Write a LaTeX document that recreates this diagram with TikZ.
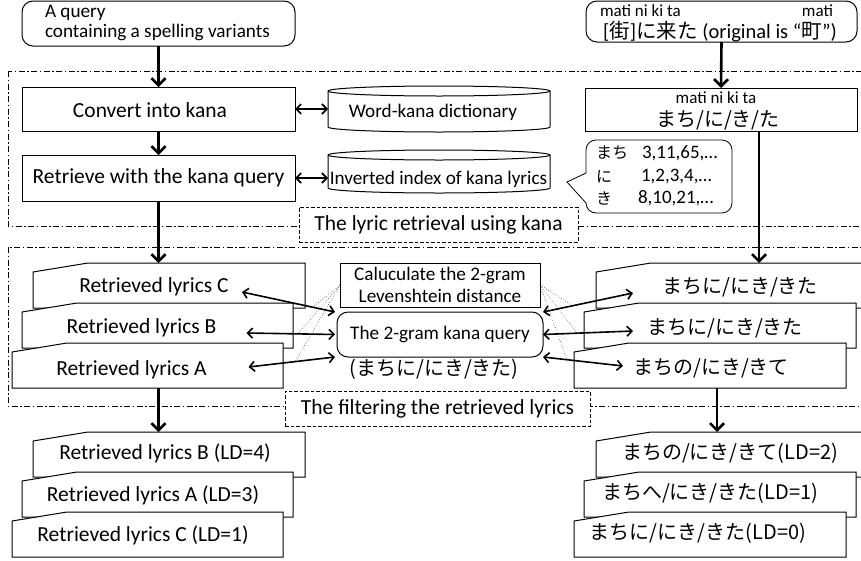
\documentclass[tikz,border=0pt]{standalone}
\usepackage{fontspec}
\setmainfont{Carlito}
\newfontfamily\jp{Noto Sans CJK JP}
\usetikzlibrary{arrows.meta,calc}
\newcommand\lyrshape[1]{\draw[line width=1pt, fill=white] (#1.south west) -- ([yshift=-9pt]#1.north west) -- ([xshift=55pt]#1.north west) -- (#1.north east) -- (#1.south east) -- cycle;}
\newcommand\cylshape[1]{%
 \draw[line width=1pt, fill=white] ([yshift=-5pt]#1.north west) -- ([yshift=5pt]#1.south west) arc[start angle=180,end angle=360,x radius=111pt,y radius=5pt] -- ([yshift=-5pt]#1.north east) arc[start angle=0,end angle=180,x radius=111pt,y radius=5pt] -- cycle;
 \draw[line width=1pt] ([yshift=-5pt]#1.north west) arc[start angle=180,end angle=360,x radius=111pt,y radius=5pt];}
\tikzset{
 every node/.style={inner sep=0pt, outer sep=0pt},
 boxx/.style={draw, line width=1pt, fill=white, rectangle},
 rboxx/.style={boxx, rounded corners=11pt},
 bnd/.style={draw=none, rectangle, inner sep=0pt},
 big/.style={font=\fontsize{21.5}{26}\selectfont},
 mid/.style={font=\fontsize{19.2}{20}\selectfont},
 sml/.style={font=\fontsize{17}{20}\selectfont},
 smm/.style={font=\fontsize{19}{20}\selectfont},
 jpb/.style={font=\jp\fontsize{20}{24}\selectfont},
 jps/.style={font=\jp\fontsize{16}{20}\selectfont},
 dframe/.style={line width=0.8pt, dash pattern=on 6pt off 2.5pt on 1.5pt off 2.5pt},
 lbl/.style={draw, fill=white, line width=0.8pt, dash pattern=on 3.5pt off 2pt, big},
 varr/.style={line width=2.6pt, -{Straight Barb[length=7pt,width=14pt]}},
 darr/.style={line width=1.6pt, {Straight Barb[length=5pt,width=10pt]}-{Straight Barb[length=5pt,width=10pt]}},
 dotln/.style={line width=0.5pt, dotted},
}
\begin{document}
\begin{tikzpicture}[x=1pt,y=-1pt]
\fill[white] (0,0) rectangle (861,560);
\useasboundingbox (0,0) rectangle (861,560);
% frames
\draw[dframe] (8,71) rectangle (880,226);
\draw[dframe] (8,247) rectangle (880,406);
% top left
\node[rboxx, minimum width=273pt, minimum height=45pt] (q0) at (158.5,23.5) {};
\node[mid, align=left, anchor=west] (q0t) at (45,23) {A query\\containing a spelling variants};
\node[boxx, minimum width=273pt, minimum height=44pt] (conv) at (158.5,109) {};
\node[big] (convt) at (150,110) {Convert into kana};
\node[boxx, big, minimum width=273pt, minimum height=46pt] (ret) at (158.5,178) {Retrieve with the kana query};
% cylinders
\node[bnd, minimum width=222pt, minimum height=46pt] (wk) at (439,109) {};
\cylshape{wk}
\node[mid] (wkt) at (433,112) {Word-kana dictionary};
\node[bnd, minimum width=222pt, minimum height=43pt] (ii) at (439,171.5) {};
\cylshape{ii}
\node[mid] (iit) at (438.5,179) {Inverted index of kana lyrics};
\draw[darr] (conv.east) -- (conv.east -| wk.west);
\draw[darr] (ret.east) -- (ret.east -| ii.west);
\draw[varr] (q0.south) -- (conv.north);
\draw[varr] (conv.south) -- (ret.north);
% right top
\node[rboxx, minimum width=271pt, minimum height=41pt] (rq) at (721.5,21.5) {};
\node[sml, anchor=west] (rqa) at (600,11) {mati ni ki ta};
\node[sml, anchor=east] (rqb) at (833,11) {mati};
\node[font=\fontsize{20.5}{22}\selectfont] (rqc) at (720,32) {[{\jp 街}]{\jp に来た} (original is “{\jp 町}”)};
\node[boxx, minimum width=272pt, minimum height=43pt] (rk) at (721,109.5) {};
\node[sml] (rka) at (716,98) {mati ni ki ta};
\node[jpb] (rkb) at (718,120) {まち/に/き/た};
\draw[varr] (rq.south) -- (rk.north);
% callout
\draw[line width=0.8pt, fill=white] (567,182) -- (586,173) -- (586,150) .. controls (586,144.5) and (590.5,140) .. (596,140) -- (722,140) .. controls (727.5,140) and (732,144.5) .. (732,150) -- (732,203) .. controls (732,208.5) and (727.5,213) .. (722,213) -- (596,213) .. controls (590.5,213) and (586,208.5) .. (586,203) -- cycle;
\node[jps, anchor=west] (c1k) at (596,153) {まち};
\node[smm, anchor=west] (c1n) at (642,153) {3,11,65,…};
\node[jps, anchor=west] (c2k) at (596,177) {に};
\node[smm, anchor=west] (c2n) at (641,177) {1,2,3,4,…};
\node[jps, anchor=west] (c3k) at (596,198) {き};
\node[smm, anchor=west] (c3n) at (638,198) {8,10,21,…};
% labels
\node[lbl, minimum width=279pt, minimum height=35pt] (lb1) at (438.5,224.5) {The lyric retrieval using kana};
% left lyric boxes
\node[bnd, minimum width=272pt, minimum height=45pt] (lcb) at (169,285.5) {};
\lyrshape{lcb}
\node[big] (lct) at (154,287) {Retrieved lyrics C};
\node[bnd, minimum width=271pt, minimum height=45pt] (lbb) at (157.5,325.5) {};
\lyrshape{lbb}
\node[big] (lbt) at (141.5,328) {Retrieved lyrics B};
\node[bnd, minimum width=271pt, minimum height=45pt] (lab) at (147.5,365.5) {};
\lyrshape{lab}
\node[big] (lat) at (131.5,370) {Retrieved lyrics A};
% right lyric boxes
\node[bnd, minimum width=284pt, minimum height=45pt] (r1b) at (738,285.5) {};
\lyrshape{r1b}
\node[jpb] (r1t) at (740,287) {まちに/にき/きた};
\node[bnd, minimum width=272pt, minimum height=45pt] (r2b) at (720,325.5) {};
\lyrshape{r2b}
\node[jpb] (r2t) at (725,328) {まちに/にき/きた};
\node[bnd, minimum width=272pt, minimum height=45pt] (r3b) at (710,365.5) {};
\lyrshape{r3b}
\node[jpb] (r3t) at (711,368) {まちの/にき/きて};
% center
\node[boxx, minimum width=200pt, minimum height=44pt, align=center, font=\fontsize{19.2}{22}\selectfont] (calc) at (440,285) {Caluculate the 2-gram\\Levenshtein distance};
\node[rboxx, mid, minimum width=206pt, minimum height=45pt] (qk) at (440,334.5) {The 2-gram kana query};
\node[jpb] (qkj) at (434,369) {(まちに/にき/きた)};
% double arrows
\draw[darr] ([shift={(88pt,-5pt)}]lct.center) -- coordinate[pos=0.76] (dC) ([xshift=-2pt]qk.north west);
\draw[darr] ([shift={(105pt,-5pt)}]lbt.center) -- coordinate[pos=0.58] (dB) ([xshift=-2pt]qk.west);
\draw[darr] ([shift={(117pt,3pt)}]lat.center) -- coordinate[pos=0.54] (dA) ([xshift=-2pt]qk.south west);
\draw[darr] ([shift={(-107pt,-6pt)}]r1t.center) -- coordinate[pos=0.67] (dR1) (qk.north east);
\draw[darr] ([shift={(-92pt,-3pt)}]r2t.center) -- coordinate[pos=0.62] (dR2) (qk.east);
\draw[darr] ([shift={(-88pt,2pt)}]r3t.center) -- coordinate[pos=0.70] (dR3) (qk.south east);
\draw[dotln] (calc.west) -- (dC);
\draw[dotln] (calc.west) -- (dB);
\draw[dotln] (calc.west) -- (dA);
\draw[dotln] (calc.east) -- (dR1);
\draw[dotln] (calc.east) -- (dR2);
\draw[dotln] (calc.east) -- (dR3);
\node[lbl, minimum width=305pt, minimum height=35pt] (lb2) at (437.5,408.5) {The filtering the retrieved lyrics};
% bottom left boxes
\node[bnd, minimum width=272pt, minimum height=45pt] (bl1b) at (169,454.5) {};
\lyrshape{bl1b}
\node[big] (bl1t) at (165,453) {Retrieved lyrics B (LD=4)};
\node[bnd, minimum width=271pt, minimum height=45pt] (bl2b) at (157.5,494.5) {};
\lyrshape{bl2b}
\node[big] (bl2t) at (153,495) {Retrieved lyrics A (LD=3)};
\node[bnd, minimum width=271pt, minimum height=45pt] (bl3b) at (147.5,534.5) {};
\lyrshape{bl3b}
\node[big] (bl3t) at (143,535) {Retrieved lyrics C (LD=1)};
% bottom right boxes
\node[bnd, minimum width=284pt, minimum height=45pt] (br1b) at (738,454.5) {};
\lyrshape{br1b}
\node[jpb] (br1t) at (730,453) {まちの/にき/きて(LD=2)};
\node[bnd, minimum width=272pt, minimum height=45pt] (br2b) at (720,494.5) {};
\lyrshape{br2b}
\node[jpb] (br2t) at (710,493) {まちへ/にき/きた(LD=1)};
\node[bnd, minimum width=272pt, minimum height=45pt] (br3b) at (710,534.5) {};
\lyrshape{br3b}
\node[jpb] (br3t) at (698,533) {まちに/にき/きた(LD=0)};
% vertical arrows
\draw[varr] (ret.south) -- (ret.south |- lcb.north);
\coordinate (rkout) at ([xshift=38pt]rk.south);
\draw[varr] (rkout) -- (rkout |- r1b.north);
\coordinate (laout) at (ret.south |- lab.south);
\draw[varr] (laout) -- (laout |- bl1b.north);
\coordinate (raout) at ([xshift=7pt]r3b.south);
\draw[varr] (raout) -- (raout |- br1b.north);
\end{tikzpicture}
\end{document}
